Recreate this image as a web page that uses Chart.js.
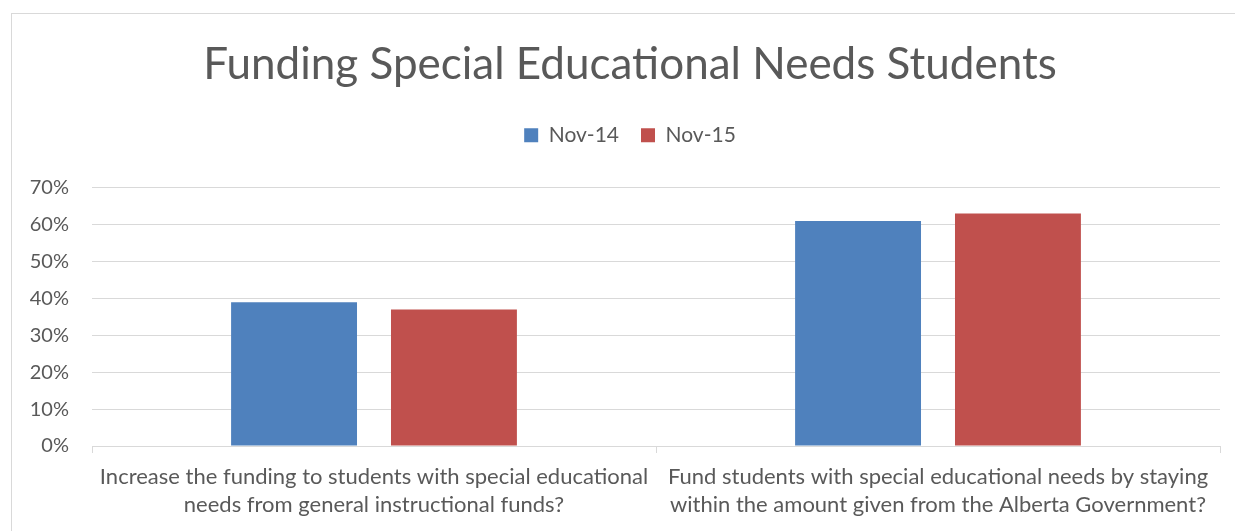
<!DOCTYPE html>
<html>
<head>
<meta charset="utf-8">
<script src="https://cdn.jsdelivr.net/npm/chart.js@4/dist/chart.umd.min.js"></script>
<style>
  html, body { margin: 0; padding: 0; background: #fff; overflow: hidden; }
  #frame { position: absolute; left: 11px; top: 13px; width: 1300px; height: 600px; border: 1px solid #d9d9d9; }
  #wrap { position: absolute; left: 0; top: 0; width: 1270px; height: 531px; }
</style>
</head>
<body>
<div id="frame"></div>
<div id="wrap"><canvas id="chart"></canvas></div>
<script>
// dados
const categorias = [
    ['Increase the funding to students with special educational', 'needs from general instructional funds?'],
    ['Fund students with special educational needs by staying', 'within the amount given from the Alberta Government?']
];
const nov14 = [0.39, 0.61];
const nov15 = [0.37, 0.63];
const rotulosSeries = ['Nov-14', 'Nov-15'];
const ticksY = [0, 0.1, 0.2, 0.3, 0.4, 0.5, 0.6, 0.7];

const cinza = '#595959';
const grade = '#d9d9d9';
const fonte = 'Lato, Calibri, sans-serif';

// Espaço extra abaixo da legenda (como no Excel)
const espacoLegenda = {
    id: 'espacoLegenda',
    beforeInit(chart) {
        const fitOriginal = chart.legend.fit;
        chart.legend.fit = function () {
            fitOriginal.bind(chart.legend)();
            this.height += 32;
        };
    }
};

new Chart(document.getElementById('chart'), {
    type: 'bar',
    data: {
        labels: categorias,
        datasets: [
            { label: rotulosSeries[0], data: nov14, backgroundColor: '#4f81bd' },
            { label: rotulosSeries[1], data: nov15, backgroundColor: '#c0504d' }
        ]
    },
    plugins: [espacoLegenda],
    options: {
        responsive: true,
        maintainAspectRatio: false,
        animation: false,
        categoryPercentage: 0.567,
        barPercentage: 0.7875,
        layout: { padding: { top: 38, left: 0, right: 10, bottom: 0 } },
        plugins: {
            title: {
                display: true,
                text: 'Funding Special Educational Needs Students',
                color: cinza,
                font: { family: fonte, size: 44, weight: '400' },
                padding: { top: 0, bottom: 12 }
            },
            legend: {
                labels: {
                    color: cinza,
                    font: { family: fonte, size: 21 },
                    boxWidth: 14,
                    boxHeight: 14,
                    padding: 22
                }
            },
            tooltip: { enabled: false }
        },
        scales: {
            x: {
                afterFit: (axis) => { axis.height = 531 - 446; },
                grid: { drawOnChartArea: false, drawTicks: true, tickLength: 7, color: grade },
                border: { color: grade },
                ticks: {
                    color: cinza,
                    font: { family: fonte, size: 22, lineHeight: 1.27 },
                    maxRotation: 0,
                    autoSkip: false,
                    padding: 10
                }
            },
            y: {
                min: 0,
                max: 0.7,
                afterBuildTicks: (axis) => { axis.ticks = ticksY.map(v => ({ value: v })); },
                afterFit: (axis) => { axis.width = 92; },
                grid: { color: grade, drawTicks: false },
                border: { display: false },
                ticks: {
                    color: cinza,
                    font: { family: fonte, size: 20 },
                    padding: 23,
                    callback: (v) => Math.round(v * 100) + '%'
                }
            },
            // eixo vazio à direita, só para o título ficar centrado como no original
            direita: {
                position: 'right',
                afterFit: (axis) => { axis.width = 40; },
                grid: { display: false },
                border: { display: false },
                ticks: { display: false }
            }
        }
    }
});
</script>
</body>
</html>
